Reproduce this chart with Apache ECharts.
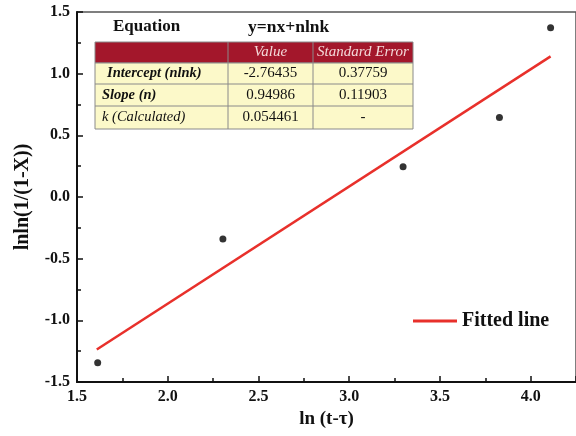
<!DOCTYPE html>
<html><head><meta charset="utf-8">
<script src="https://cdn.jsdelivr.net/npm/echarts@6/dist/echarts.min.js"></script>
<style>html,body{margin:0;padding:0;background:#fff}#c{width:576px;height:436px}</style>
</head><body><div id="c"></div>
<script>
// Data
var pointsX = [1.614, 2.304, 3.297, 3.828, 4.11];
var pointsY = [-1.344, -0.340, 0.246, 0.644, 1.373];
var fitX = [1.609, 4.11];
var fitY = [-1.236, 1.140];
var xTicks = [1.5, 2.0, 2.5, 3.0, 3.5, 4.0];
var yTicks = [-1.5, -1.0, -0.5, 0.0, 0.5, 1.0, 1.5];
var tableHeader = ['', 'Value', 'Standard Error'];
var rowNames = ['Intercept (nlnk)', 'Slope (n)', 'k (Calculated)'];
var rowValues = ['-2.76435', '0.94986', '0.054461'];
var rowErrors = ['0.37759', '0.11903', '-'];
var equationLabel = 'Equation';
var equationText = 'y=nx+nlnk';

var font = 'Liberation Serif';
var chart = echarts.init(document.getElementById('c'));

// table graphics
var colX = [95, 228, 313, 413], rowY = [42, 63, 84, 106, 129];
var g = [];
g.push({type:'text', x:113, y:27, style:{text:equationLabel, font:'bold 17px "'+font+'"', fill:'#111', verticalAlign:'middle'}});
g.push({type:'text', x:248, y:27, style:{text:equationText, font:'bold 17.5px "'+font+'"', fill:'#111', verticalAlign:'middle'}});
g.push({type:'rect', shape:{x:colX[0], y:rowY[0], width:colX[3]-colX[0], height:rowY[1]-rowY[0]}, style:{fill:'#A3172B', stroke:'#8a8a8a', lineWidth:1}});
g.push({type:'rect', shape:{x:colX[0], y:rowY[1], width:colX[3]-colX[0], height:rowY[4]-rowY[1]}, style:{fill:'#FCF9C9', stroke:'#8a8a8a', lineWidth:1}});
for (var i = 2; i < 4; i++) {
  g.push({type:'line', shape:{x1:colX[0], y1:rowY[i], x2:colX[3], y2:rowY[i]}, style:{stroke:'#8a8a8a', lineWidth:1}});
}
for (var j = 1; j < 3; j++) {
  g.push({type:'line', shape:{x1:colX[j], y1:rowY[0], x2:colX[j], y2:rowY[4]}, style:{stroke:'#8a8a8a', lineWidth:1}});
}
for (var j = 1; j < 3; j++) {
  g.push({type:'text', x:(colX[j]+colX[j+1])/2, y:(rowY[0]+rowY[1])/2, style:{text:tableHeader[j], font:'italic 15px "'+font+'"', fill:'#f3d8d8', align:'center', verticalAlign:'middle'}});
}
for (var r = 0; r < 3; r++) {
  var cy = (rowY[r+1]+rowY[r+2])/2;
  g.push({type:'text', x:(r===0?107:102), y:cy, style:{text:rowNames[r], font:(r<2?'bold ':'')+'italic 14.5px "'+font+'"', fill:'#111', align:'left', verticalAlign:'middle'}});
  g.push({type:'text', x:(colX[1]+colX[2])/2, y:cy, style:{text:rowValues[r], font:'15px "'+font+'"', fill:'#111', align:'center', verticalAlign:'middle'}});
  g.push({type:'text', x:(colX[2]+colX[3])/2, y:cy, style:{text:rowErrors[r], font:'15px "'+font+'"', fill:'#111', align:'center', verticalAlign:'middle'}});
}

var scatterData = pointsX.map(function(x,i){return [x, pointsY[i]];});
var fitData = fitX.map(function(x,i){return [x, fitY[i]];});

chart.setOption({
  animation:false,
  backgroundColor:'#fff',
  grid:{left:77, right:0, top:12, bottom:54, show:true, borderColor:'#555', borderWidth:1.5},
  legend:{data:[{name:'Fitted line', icon:'rect'}], left:408, top:306, itemWidth:44, itemHeight:3, itemGap:7,
    textStyle:{fontFamily:font, fontWeight:'bold', fontSize:20, color:'#111'}},
  xAxis:{type:'value', min:1.5, max:4.25, interval:0.5,
    name:'ln (t-\u03c4)', nameLocation:'middle', nameGap:18,
    nameTextStyle:{fontFamily:font, fontWeight:'bold', fontSize:19, color:'#111'},
    axisLine:{show:true, onZero:false, lineStyle:{color:'#111', width:2}},
    axisTick:{inside:true, length:6, lineStyle:{color:'#111', width:1.5}},
    minorTick:{show:true, splitNumber:2, length:4, lineStyle:{color:'#111', width:1.5}},
    splitLine:{show:false},
    axisLabel:{fontFamily:font, fontWeight:'bold', fontSize:16, color:'#111', margin:7,
      formatter:function(v){return v.toFixed(1);}, showMaxLabel:false}
  },
  yAxis:{type:'value', min:-1.5, max:1.5, interval:0.5,
    name:'lnln(1/(1-X))', nameLocation:'middle', nameGap:44, nameRotate:90,
    nameTextStyle:{fontFamily:font, fontWeight:'bold', fontSize:20, color:'#111'},
    axisLine:{show:true, onZero:false, lineStyle:{color:'#111', width:2}},
    axisTick:{inside:true, length:6, lineStyle:{color:'#111', width:1.5}},
    minorTick:{show:true, splitNumber:2, length:4, lineStyle:{color:'#111', width:1.5}},
    splitLine:{show:false},
    axisLabel:{fontFamily:font, fontWeight:'bold', fontSize:16, color:'#111', margin:7,
      formatter:function(v){return v.toFixed(1);}}
  },
  series:[
    {name:'Data', type:'scatter', data:scatterData, symbolSize:7, itemStyle:{color:'#000'}, z:3},
    {name:'Fitted line', type:'line', data:fitData, showSymbol:false, symbol:'none', lineStyle:{color:'#E8302B', width:2.5}, itemStyle:{color:'#E8302B'}, z:2}
  ],
  graphic:g
});
</script></body></html>
